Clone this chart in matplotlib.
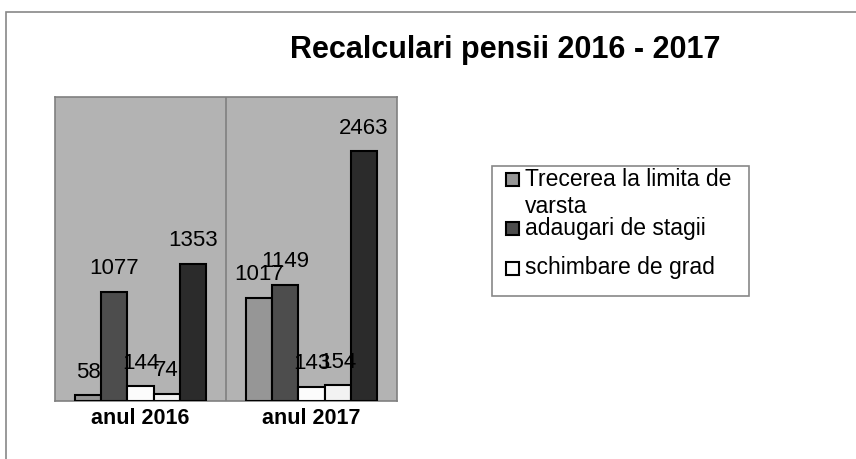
import numpy as np
import matplotlib.pyplot as plt
from matplotlib.patches import Rectangle

plt.rcParams['font.family'] = ['Liberation Sans', 'DejaVu Sans']

# Date
ani = ['anul 2016', 'anul 2017']
serii = ['Trecerea la limita de\nvarsta', 'adaugari de stagii', 'schimbare de grad', 'serie 4', 'serie 5']
valori = [
    [58, 1017],
    [1077, 1149],
    [144, 143],
    [74, 154],
    [1353, 2463],
]
culori = ['#969696', '#4d4d4d', '#fcfcfc', '#f2f2f2', '#2b2b2b']

W, H = 856, 459
fig = plt.figure(figsize=(W / 100, H / 100), dpi=100)
fig.patch.set_facecolor('white')


def fx(px):
    return px / W


def fy(py):
    return 1 - py / H


# chenar exterior
fig.add_artist(Rectangle((fx(6), -0.2), 1.2, fy(12) + 0.2, transform=fig.transFigure,
                         fill=False, edgecolor='#888888', linewidth=1.2))

ax = fig.add_axes([fx(55), fy(401), (397 - 55) / W, (401 - 97) / H])
ax.set_facecolor('#b3b3b3')
for s in ax.spines.values():
    s.set_color('#808080')
    s.set_linewidth(1.2)

x = np.arange(len(ani))
w = 0.1535
n = len(serii)
for i in range(n):
    pos = x + (i - (n - 1) / 2) * w
    bars = ax.bar(pos, valori[i], width=w, color=culori[i], edgecolor='black', linewidth=1.5, zorder=3)
    for b, v in zip(bars, valori[i]):
        ax.annotate(str(v), (b.get_x() + b.get_width() / 2, b.get_height()),
                    xytext=(0, 9), textcoords='offset points', ha='center', va='bottom',
                    fontsize=16, zorder=4)

ax.set_xlim(-0.5, 1.5)
ax.set_ylim(0, 3000)
ax.axvline(0.5, color='#808080', linewidth=1.2)
ax.set_yticks([])
ax.set_xticks(x)
ax.set_xticklabels(ani, fontsize=15.5, fontweight='bold')
ax.tick_params(axis='x', length=0, pad=5)

fig.text(fx(505), fy(50), 'Recalculari pensii 2016 - 2017', ha='center', va='center',
         fontsize=22, fontweight='bold')

# legenda (doar primele trei serii, ca in original)
fig.add_artist(Rectangle((fx(492), fy(296)), (749 - 492) / W, (296 - 166) / H,
                         transform=fig.transFigure, facecolor='white',
                         edgecolor='#888888', linewidth=1.2))
leg_y = [179.5, 229, 268]
for i in range(3):
    fig.add_artist(Rectangle((fx(506), fy(leg_y[i] + 6.5)), 13 / W, 13 / H,
                             transform=fig.transFigure, facecolor=culori[i],
                             edgecolor='black', linewidth=1.5))
    txt = serii[i].split('\n')
    for j, linie in enumerate(txt):
        fig.text(fx(525), fy(leg_y[i] + 6 + j * 27), linie, ha='left', va='baseline',
                 fontsize=16.5, linespacing=1.0)

fig.savefig('out.png', dpi=100)
